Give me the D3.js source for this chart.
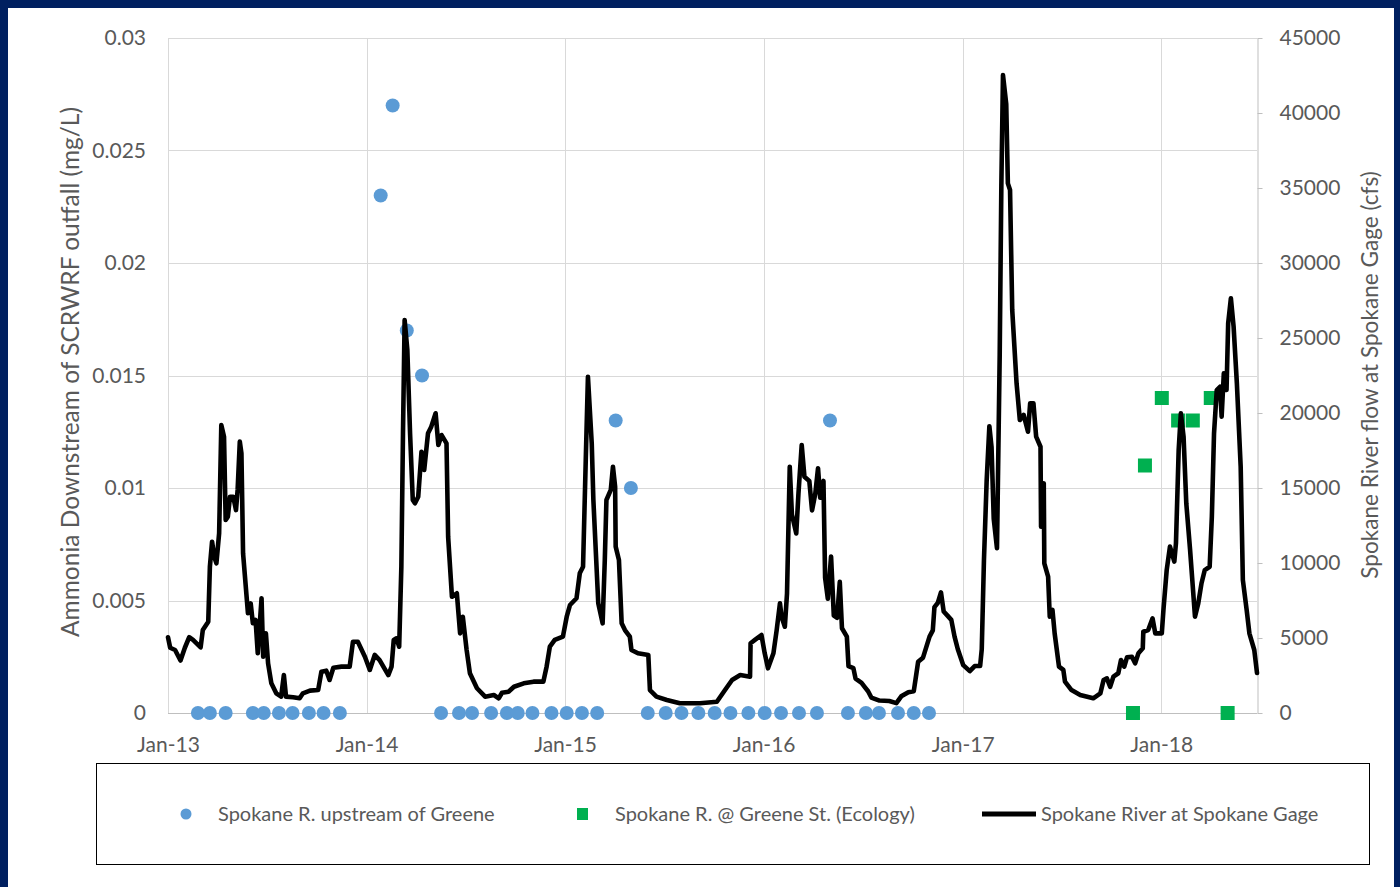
<!DOCTYPE html>
<html>
<head>
<meta charset="utf-8">
<script src="https://cdn.jsdelivr.net/npm/d3@7"></script>
<style>
  html, body { margin: 0; padding: 0; background: #002060; overflow: hidden; }
  svg { display: block; }
  text { font-family: Lato, Carlito, Calibri, "Noto Sans", sans-serif; fill: #595959; }
</style>
</head>
<body>
<svg id="chart" width="1400" height="887"></svg>
<script>
// Daily flow, Spokane River at Spokane gage (cfs)
const flowDates = [
  "2013-01-01","2013-01-05","2013-01-14","2013-01-24","2013-02-01","2013-02-09","2013-02-16","2013-03-02","2013-03-06","2013-03-16",
  "2013-03-19","2013-03-23","2013-03-27","2013-03-31","2013-04-05","2013-04-09","2013-04-14","2013-04-17","2013-04-21","2013-04-25",
  "2013-05-01","2013-05-06","2013-05-09","2013-05-13","2013-05-16","2013-05-19","2013-05-26","2013-05-28","2013-06-02","2013-06-06",
  "2013-06-11","2013-06-15","2013-06-22","2013-06-25","2013-06-30","2013-07-04","2013-07-10","2013-07-19","2013-07-28","2013-08-02",
  "2013-08-06","2013-08-19","2013-08-31","2013-09-06","2013-09-19","2013-10-04","2013-10-10","2013-10-19","2013-10-25","2013-11-01",
  "2013-11-16","2013-12-01","2013-12-07","2013-12-16","2013-12-29","2014-01-07","2014-01-16","2014-01-25","2014-02-10","2014-02-16",
  "2014-02-20","2014-02-25","2014-03-02","2014-03-06","2014-03-09","2014-03-12","2014-03-17","2014-03-22","2014-03-27","2014-03-31",
  "2014-04-06","2014-04-12","2014-04-17","2014-04-24","2014-04-30","2014-05-08","2014-05-13","2014-05-19","2014-05-28","2014-05-31",
  "2014-06-07","2014-06-16","2014-06-22","2014-06-27","2014-07-04","2014-07-10","2014-07-23","2014-08-07","2014-08-23","2014-09-01",
  "2014-09-07","2014-09-19","2014-09-29","2014-10-17","2014-11-04","2014-11-22","2014-11-28","2014-12-04","2014-12-13","2014-12-28",
  "2015-01-04","2015-01-10","2015-01-22","2015-01-28","2015-02-03","2015-02-08","2015-02-12","2015-02-19","2015-02-22","2015-03-03",
  "2015-03-11","2015-03-15","2015-03-18","2015-03-26","2015-03-30","2015-04-03","2015-04-04","2015-04-10","2015-04-15","2015-04-21",
  "2015-04-30","2015-05-03","2015-05-15","2015-06-03","2015-06-06","2015-06-18","2015-07-07","2015-07-31","2015-09-06","2015-10-07",
  "2015-10-22","2015-11-04","2015-11-19","2015-12-07","2015-12-08","2015-12-16","2015-12-28","2016-01-03","2016-01-09","2016-01-19",
  "2016-01-25","2016-01-31","2016-02-03","2016-02-09","2016-02-13","2016-02-18","2016-02-22","2016-03-01","2016-03-05","2016-03-11",
  "2016-03-16","2016-03-25","2016-03-30","2016-04-05","2016-04-10","2016-04-14","2016-04-20","2016-04-23","2016-04-28","2016-05-04",
  "2016-05-09","2016-05-15","2016-05-20","2016-05-24","2016-06-02","2016-06-05","2016-06-14","2016-06-18","2016-06-29","2016-07-05",
  "2016-07-11","2016-07-17","2016-08-01","2016-08-19","2016-09-01","2016-09-10","2016-09-23","2016-10-03","2016-10-07","2016-10-11",
  "2016-10-20","2016-10-26","2016-11-01","2016-11-07","2016-11-10","2016-11-16","2016-11-22","2016-11-27","2016-12-04","2016-12-11",
  "2016-12-17","2016-12-23","2017-01-02","2017-01-14","2017-01-23","2017-02-02","2017-02-05","2017-02-09","2017-02-14","2017-02-19",
  "2017-02-23","2017-02-27","2017-03-05","2017-03-10","2017-03-13","2017-03-16","2017-03-22","2017-03-25","2017-03-29","2017-04-02",
  "2017-04-10","2017-04-16","2017-04-23","2017-05-01","2017-05-05","2017-05-11","2017-05-16","2017-05-24","2017-05-25","2017-05-30",
  "2017-05-31","2017-06-07","2017-06-10","2017-06-15","2017-06-19","2017-06-27","2017-07-05","2017-07-08","2017-07-20","2017-08-05",
  "2017-08-29","2017-09-11","2017-09-17","2017-09-23","2017-09-29","2017-10-05","2017-10-14","2017-10-19","2017-10-25","2017-10-30",
  "2017-11-08","2017-11-14","2017-11-20","2017-11-28","2017-11-29","2017-12-08","2017-12-16","2017-12-21","2018-01-02","2018-01-05",
  "2018-01-11","2018-01-17","2018-01-25","2018-01-28","2018-02-02","2018-02-06","2018-02-11","2018-02-16","2018-02-23","2018-03-04",
  "2018-03-10","2018-03-16","2018-03-22","2018-03-31","2018-04-04","2018-04-08","2018-04-13","2018-04-19","2018-04-22","2018-04-26",
  "2018-05-01","2018-05-04","2018-05-09","2018-05-14","2018-05-20","2018-05-27","2018-05-31","2018-06-07","2018-06-12","2018-06-21",
  "2018-06-26"
];
const flowCfs = [
  5050,4350,4200,3500,4350,5050,4870,4380,5530,6090,
  9750,11420,10420,9980,11980,19200,18420,12870,13090,14420,
  14420,13530,14870,18090,17310,10650,7530,6650,7310,5980,
  6200,3980,7650,3750,5310,3310,1980,1310,1090,2530,
  1090,1050,980,1310,1490,1530,2750,2820,2200,3020,
  3090,3090,4750,4750,3750,2870,3870,3530,2530,3090,
  4870,4980,4420,9750,18650,26200,24200,18650,14200,13980,
  14420,17420,16200,18650,19090,19980,17870,18530,17980,11750,
  7750,7980,5310,6420,4200,2650,1650,1090,1200,980,
  1350,1420,1750,1980,2090,2090,3090,4420,4870,5090,
  6420,7200,7650,9310,9750,16870,22420,17980,14200,7310,
  5980,10200,14200,14870,16420,15090,11090,10200,5980,5530,
  5090,4200,3980,3870,1530,1090,870,650,650,750,
  1530,2200,2530,2420,4650,4870,5200,3980,2980,3980,
  5530,7310,6420,5750,7980,16420,13230,11970,14630,17870,
  15750,15470,13510,14630,16320,14350,15470,9020,7620,10430,
  6490,6350,8740,5650,5090,3130,2990,2290,2010,1730,
  1450,1030,830,800,660,1110,1390,1450,2430,3410,
  3690,4390,5090,5510,7060,7330,8040,6770,6490,6210,
  5090,4250,3190,2790,3130,3130,4250,10150,15470,19120,
  17720,12950,10990,23890,35110,42530,40600,35310,34870,26870,
  21980,19530,19870,18750,20650,20650,18420,17750,12420,15310,
  9980,9090,6420,6870,5310,3090,2870,2090,1530,1200,
  980,1310,2200,2310,1750,2420,2650,3530,3090,3710,
  3750,3310,3980,4310,5420,5530,6310,5310,5310,6870,
  9530,11090,10090,11310,17530,19980,18420,13980,10870,6420,
  7310,8650,9530,9750,13090,18650,21530,21750,19750,22650,
  21530,25980,27650,25750,21980,16420,8870,6870,5310,4200,
  2670
];

// Ammonia, Spokane R. upstream of Greene (mg/L)
const upstreamDates = [
  "2013-02-25","2013-03-19","2013-04-17","2013-06-06","2013-06-26","2013-07-24","2013-08-18","2013-09-17","2013-10-14","2013-11-13",
  "2014-01-27","2014-02-18","2014-03-16","2014-04-13","2014-05-18","2014-06-20","2014-07-14","2014-08-18","2014-09-16","2014-10-06",
  "2014-11-02","2014-12-07","2015-01-04","2015-02-01","2015-03-01","2015-04-04","2015-05-02","2015-06-02","2015-07-05","2015-08-03",
  "2015-09-03","2015-10-03","2015-11-01","2015-12-04","2016-01-03","2016-02-02","2016-03-06","2016-04-08","2016-05-02","2016-06-04",
  "2016-07-07","2016-07-31","2016-09-04","2016-10-03","2016-10-31"
];
const upstreamMgL = [
  0,0,0,0,0,0,0,0,0,0,
  0.023,0.027,0.017,0.015,0,0,0,0,0,0,
  0,0,0,0,0,0.013,0.010,0,0,0,
  0,0,0,0,0,0,0,0,0.013,0,
  0,0,0,0,0
];

// Ammonia, Spokane R. @ Greene St. (Ecology) (mg/L)
const ecologyDates = ["2017-11-10","2017-12-02","2018-01-02","2018-02-01","2018-02-28","2018-04-02","2018-05-03"];
const ecologyMgL   = [0, 0.011, 0.014, 0.013, 0.013, 0.014, 0];

// Axis ticks and labels
const yearTicks = ["2013-01-01","2014-01-01","2015-01-01","2016-01-01","2017-01-01","2018-01-01"];
const leftTicks = [0, 0.005, 0.01, 0.015, 0.02, 0.025, 0.03];
const leftTickLabels = ["0", "0.005", "0.01", "0.015", "0.02", "0.025", "0.03"];
const rightTicks = [0, 5000, 10000, 15000, 20000, 25000, 30000, 35000, 40000, 45000];
const leftTitle = "Ammonia Downstream of SCRWRF outfall (mg/L)";
const rightTitle = "Spokane River flow at Spokane Gage (cfs)";
const legendLabels = ["Spokane R. upstream of Greene", "Spokane R. @ Greene St. (Ecology)", "Spokane River at Spokane Gage"];

const parse = d3.timeParse("%Y-%m-%d");
const flow = flowDates.map((d, i) => ({ date: parse(d), v: flowCfs[i] }));
const upstream = upstreamDates.map((d, i) => ({ date: parse(d), v: upstreamMgL[i] }));
const ecology = ecologyDates.map((d, i) => ({ date: parse(d), v: ecologyMgL[i] }));

const plot = { left: 168, right: 1257, top: 38, bottom: 713 };
const colors = { upstream: "#5B9BD5", ecology: "#00B050", flow: "#000000", grid: "#D9D9D9", axis: "#BFBFBF" };

const svg = d3.select("#chart");

// slide background and white chart panel
svg.append("rect").attr("width", 1400).attr("height", 887).attr("fill", "#002060");
svg.append("rect").attr("x", 8).attr("y", 8).attr("width", 1386).attr("height", 879).attr("fill", "#FFFFFF");

const x = d3.scaleTime()
  .domain([parse("2013-01-01"), parse("2018-06-26")])
  .range([plot.left, plot.right]);
const yL = d3.scaleLinear().domain([0, 0.03]).range([plot.bottom, plot.top]);
const yR = d3.scaleLinear().domain([0, 45000]).range([plot.bottom, plot.top]);

// gridlines
const grid = svg.append("g").attr("shape-rendering", "crispEdges");
grid.selectAll("line.h").data(leftTicks).join("line")
  .attr("x1", plot.left).attr("x2", plot.right)
  .attr("y1", d => Math.round(yL(d)) + 0.5).attr("y2", d => Math.round(yL(d)) + 0.5)
  .attr("stroke", (d, i) => i === 0 ? colors.axis : colors.grid).attr("stroke-width", 1);
grid.selectAll("line.v").data(yearTicks.map(parse)).join("line")
  .attr("x1", d => Math.round(x(d)) + 0.5).attr("x2", d => Math.round(x(d)) + 0.5)
  .attr("y1", plot.top).attr("y2", plot.bottom)
  .attr("stroke", colors.grid).attr("stroke-width", 1);

// left axis
const leftAxis = svg.append("g")
  .attr("transform", `translate(${plot.left},0)`)
  .call(d3.axisLeft(yL).tickValues(leftTicks).tickFormat((d, i) => leftTickLabels[i]).tickSize(0).tickPadding(22));
leftAxis.select(".domain").remove();

// right axis
const rightAxis = svg.append("g")
  .attr("transform", `translate(${plot.right + 0.5},0)`)
  .call(d3.axisRight(yR).tickValues(rightTicks).tickFormat(d3.format("d")).tickSize(5).tickSizeOuter(0).tickPadding(17));
rightAxis.selectAll("line").attr("stroke", colors.axis);
rightAxis.select(".domain").attr("stroke", colors.axis);

// bottom axis
const bottomAxis = svg.append("g")
  .attr("transform", `translate(0,${plot.bottom})`)
  .call(d3.axisBottom(x).tickValues(yearTicks.map(parse)).tickFormat(d3.timeFormat("%b-%y")).tickSize(0).tickPadding(24));
bottomAxis.select(".domain").remove();

svg.selectAll(".tick text").attr("font-size", 21).attr("fill", "#595959")
  .style("font-family", "Lato, Carlito, Calibri, 'Noto Sans', sans-serif");

// axis titles
svg.append("text")
  .attr("transform", `translate(79,372) rotate(-90)`)
  .attr("text-anchor", "middle").attr("font-size", 24.5)
  .text(leftTitle);
svg.append("text")
  .attr("transform", `translate(1378,375) rotate(-90)`)
  .attr("text-anchor", "middle").attr("font-size", 22.6)
  .text(rightTitle);

// upstream samples
svg.append("g").selectAll("circle").data(upstream).join("circle")
  .attr("cx", d => x(d.date)).attr("cy", d => yL(d.v)).attr("r", 7)
  .attr("fill", colors.upstream);

// Ecology samples
const sq = 14;
svg.append("g").selectAll("rect").data(ecology).join("rect")
  .attr("x", d => x(d.date) - sq / 2).attr("y", d => yL(d.v) - sq / 2)
  .attr("width", sq).attr("height", sq)
  .attr("fill", colors.ecology);

// flow line
svg.append("path").datum(flow)
  .attr("d", d3.line().x(d => x(d.date)).y(d => yR(d.v)))
  .attr("fill", "none").attr("stroke", colors.flow).attr("stroke-width", 4.6)
  .attr("stroke-linejoin", "round").attr("stroke-linecap", "round");

// legend
const legend = svg.append("g");
legend.append("rect").attr("x", 96.5).attr("y", 763.5).attr("width", 1273).attr("height", 101)
  .attr("fill", "#FFFFFF").attr("stroke", "#000000").attr("stroke-width", 1);
const ly = 814;
legend.append("circle").attr("cx", 186).attr("cy", ly).attr("r", 5.5).attr("fill", colors.upstream);
legend.append("rect").attr("x", 577).attr("y", ly - 6).attr("width", 11).attr("height", 12).attr("fill", colors.ecology);
legend.append("line").attr("x1", 982).attr("x2", 1036).attr("y1", ly).attr("y2", ly)
  .attr("stroke", colors.flow).attr("stroke-width", 5);
const legendX = [218, 615, 1041];
legend.selectAll("text.lbl").data(legendLabels).join("text")
  .attr("x", (d, i) => legendX[i]).attr("y", ly).attr("dy", "0.35em")
  .attr("font-size", 20).text(d => d);
</script>
